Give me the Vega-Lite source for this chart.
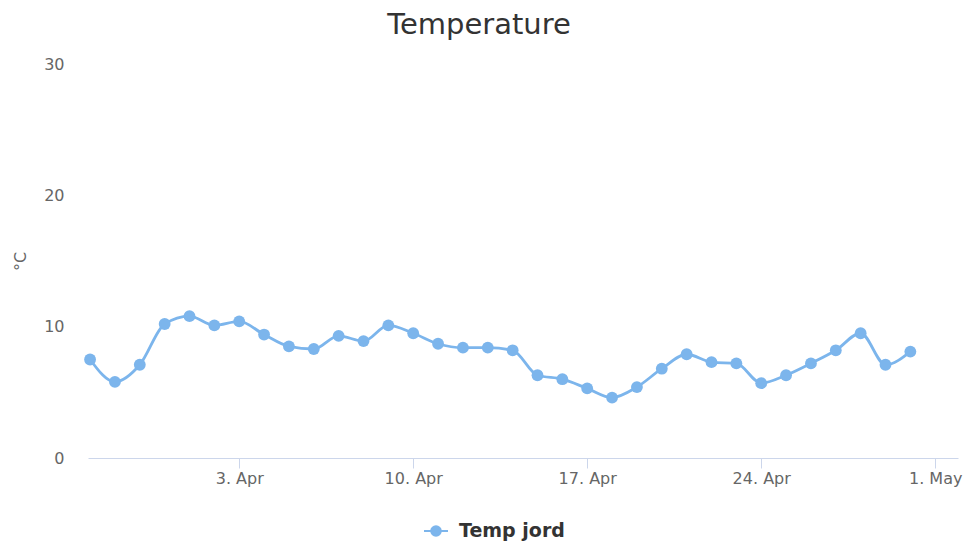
{
  "$schema": "https://vega.github.io/schema/vega-lite/v6.json",
  "width": 870,
  "height": 394,
  "autosize": "none",
  "padding": {"left": 88, "top": 64, "right": 5, "bottom": 84},
  "background": "white",
  "config": {
    "font": "DejaVu Sans",
    "view": {"stroke": null}
  },
  "title": {
    "text": "Temperature",
    "fontSize": 29,
    "fontWeight": "normal",
    "color": "#333333",
    "anchor": "middle",
    "dx": -44,
    "dy": 7,
    "baseline": "alphabetic",
    "offset": 0
  },
  "data": {
    "values": [
      {"date": "2024-03-28", "temp": 7.5, "series": "Temp jord"},
      {"date": "2024-03-29", "temp": 5.8, "series": "Temp jord"},
      {"date": "2024-03-30", "temp": 7.1, "series": "Temp jord"},
      {"date": "2024-03-31", "temp": 10.2, "series": "Temp jord"},
      {"date": "2024-04-01", "temp": 10.8, "series": "Temp jord"},
      {"date": "2024-04-02", "temp": 10.1, "series": "Temp jord"},
      {"date": "2024-04-03", "temp": 10.4, "series": "Temp jord"},
      {"date": "2024-04-04", "temp": 9.4, "series": "Temp jord"},
      {"date": "2024-04-05", "temp": 8.5, "series": "Temp jord"},
      {"date": "2024-04-06", "temp": 8.3, "series": "Temp jord"},
      {"date": "2024-04-07", "temp": 9.3, "series": "Temp jord"},
      {"date": "2024-04-08", "temp": 8.9, "series": "Temp jord"},
      {"date": "2024-04-09", "temp": 10.1, "series": "Temp jord"},
      {"date": "2024-04-10", "temp": 9.5, "series": "Temp jord"},
      {"date": "2024-04-11", "temp": 8.7, "series": "Temp jord"},
      {"date": "2024-04-12", "temp": 8.4, "series": "Temp jord"},
      {"date": "2024-04-13", "temp": 8.4, "series": "Temp jord"},
      {"date": "2024-04-14", "temp": 8.2, "series": "Temp jord"},
      {"date": "2024-04-15", "temp": 6.3, "series": "Temp jord"},
      {"date": "2024-04-16", "temp": 6.0, "series": "Temp jord"},
      {"date": "2024-04-17", "temp": 5.3, "series": "Temp jord"},
      {"date": "2024-04-18", "temp": 4.6, "series": "Temp jord"},
      {"date": "2024-04-19", "temp": 5.4, "series": "Temp jord"},
      {"date": "2024-04-20", "temp": 6.8, "series": "Temp jord"},
      {"date": "2024-04-21", "temp": 7.9, "series": "Temp jord"},
      {"date": "2024-04-22", "temp": 7.3, "series": "Temp jord"},
      {"date": "2024-04-23", "temp": 7.2, "series": "Temp jord"},
      {"date": "2024-04-24", "temp": 5.7, "series": "Temp jord"},
      {"date": "2024-04-25", "temp": 6.3, "series": "Temp jord"},
      {"date": "2024-04-26", "temp": 7.2, "series": "Temp jord"},
      {"date": "2024-04-27", "temp": 8.2, "series": "Temp jord"},
      {"date": "2024-04-28", "temp": 9.5, "series": "Temp jord"},
      {"date": "2024-04-29", "temp": 7.1, "series": "Temp jord"},
      {"date": "2024-04-30", "temp": 8.1, "series": "Temp jord"}
    ]
  },
  "encoding": {
    "x": {
      "field": "date",
      "type": "temporal",
      "title": null,
      "scale": {
        "type": "utc",
        "domain": [
          {"year": 2024, "month": 3, "date": 27, "hours": 22, "utc": true},
          {"year": 2024, "month": 5, "date": 1, "hours": 22, "utc": true}
        ]
      },
      "axis": {
        "values": [
          {"year": 2024, "month": 4, "date": 3, "utc": true},
          {"year": 2024, "month": 4, "date": 10, "utc": true},
          {"year": 2024, "month": 4, "date": 17, "utc": true},
          {"year": 2024, "month": 4, "date": 24, "utc": true},
          {"year": 2024, "month": 5, "date": 1, "utc": true}
        ],
        "labelExpr": "utcFormat(datum.value, '%-d. %b')",
        "grid": false,
        "domainColor": "#ccd6eb",
        "domainWidth": 1,
        "tickColor": "#ccd6eb",
        "tickSize": 10,
        "labelPadding": 2,
        "labelFontSize": 16,
        "labelColor": "#666666",
        "labelFlush": false
      }
    },
    "y": {
      "field": "temp",
      "type": "quantitative",
      "scale": {"domain": [0, 30], "nice": false},
      "axis": {
        "values": [0, 10, 20, 30],
        "grid": false,
        "domain": false,
        "ticks": false,
        "tickSize": 0,
        "labelPadding": 24,
        "labelFontSize": 16,
        "labelColor": "#666666",
        "title": "°C",
        "titleFontSize": 16,
        "titleFontWeight": "normal",
        "titleColor": "#666666",
        "titleAngle": -90,
        "titleAlign": "center",
        "titleBaseline": "middle",
        "titleX": -68,
        "titleY": 197
      }
    },
    "color": {
      "field": "series",
      "type": "nominal",
      "scale": {"range": ["#7cb5ec"]},
      "legend": {
        "title": null,
        "orient": "none",
        "legendX": 335,
        "legendY": 454,
        "direction": "horizontal",
        "symbolType": "M -1 0 L -0.4 0 M 0.4 0 L 1 0 M -0.4 0 A 0.4 0.4 0 1 0 0.4 0 A 0.4 0.4 0 1 0 -0.4 0 Z",
        "symbolSize": 576,
        "symbolStrokeWidth": 2,
        "symbolFillColor": "#7cb5ec",
        "symbolStrokeColor": "#7cb5ec",
        "labelFontSize": 19,
        "labelFontWeight": "bold",
        "labelColor": "#333333",
        "labelOffset": 10
      }
    }
  },
  "layer": [
    {
      "mark": {"type": "line", "interpolate": "monotone", "strokeWidth": 2.8}
    },
    {
      "mark": {"type": "point", "filled": true, "opacity": 1, "size": 140, "shape": "circle"}
    }
  ]
}
